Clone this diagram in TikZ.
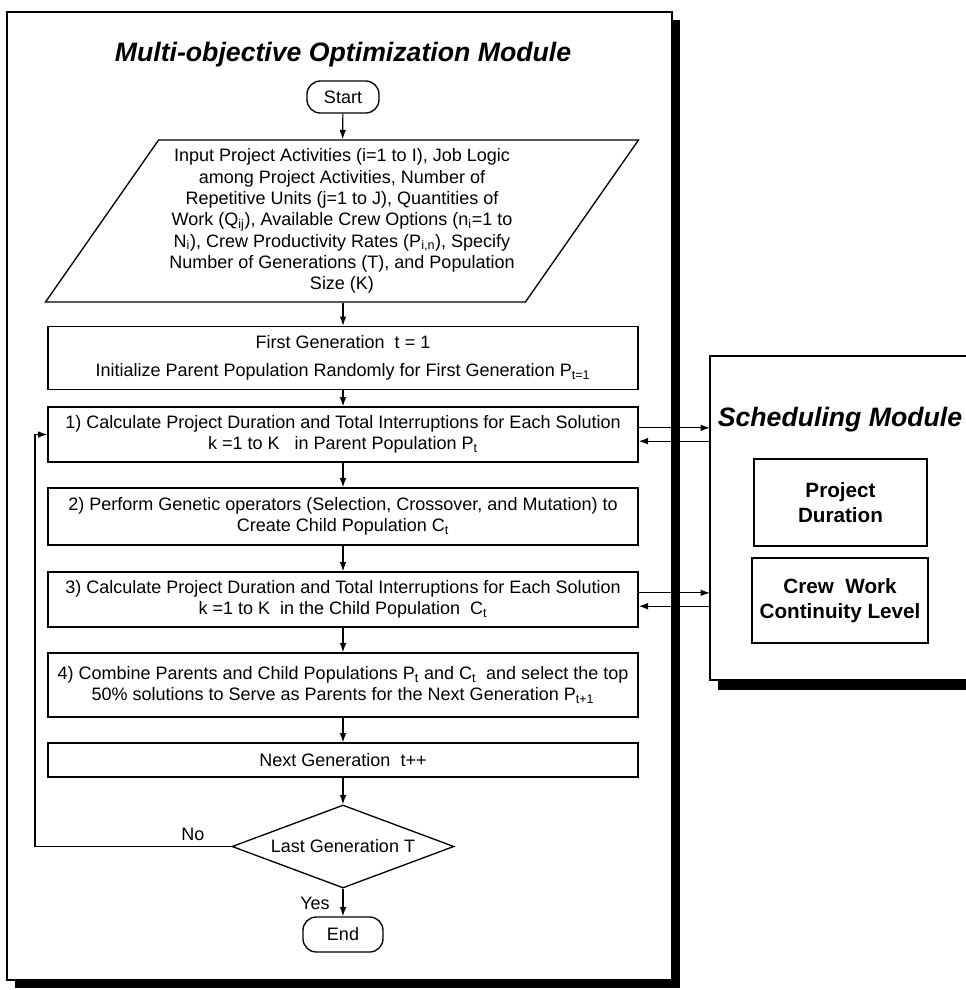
\documentclass[tikz,border=0pt]{standalone}
\usepackage{fontspec}
\setmainfont{Liberation Sans}
\usetikzlibrary{shapes.geometric,arrows.meta}

\tikzset{
  stepbox/.style={draw, line width=1pt, minimum width=442.5pt, align=center, inner sep=2pt},
  endbox/.style={draw, line width=1pt, rounded corners=10pt, inner sep=0pt},
  arr/.style={-{Latex[length=7pt,width=5pt]}, line width=0.9pt},
  modtitle/.style={font=\fontsize{20}{24}\selectfont\bfseries\itshape},
  outbox/.style={draw, line width=0.9pt, align=center, font=\fontsize{15.5}{19}\selectfont\bfseries},
}

\begin{document}
\begin{tikzpicture}[x=0.75pt, y=-0.75pt, font=\fontsize{13.5}{16}\selectfont]
    \useasboundingbox (0,0) rectangle (966,990);

    % Optimization module frame
    \fill (672,20) rectangle (680,988);
    \fill (15,980) rectangle (680,988);
    \draw[line width=1.1pt] (7,12) rectangle (672,980);
    \node[modtitle] (optTitle) at (343,55) {Multi-objective Optimization Module};

    % Scheduling module frame
    \fill (718,680) rectangle (966,690);
    \draw[line width=1.1pt] (966,356) -- (710,356) -- (710,680) -- (966,680);
    \coordinate (schL) at (710,0);
    \node[modtitle] (schTitle) at (840,420) {Scheduling Module};
    \node[outbox, minimum width=129.75pt, minimum height=65.25pt] (dur) at (840.5,502.5) {Project\\Duration};
    \node[outbox, minimum width=132pt, minimum height=63.75pt] (crew) at (840,600.5) {Crew~~Work\\Continuity Level};

    % Flowchart
    \node[endbox, minimum width=54pt, minimum height=24pt] (start) at (343,97) {Start};
    \node[draw, line width=1pt, trapezium, trapezium left angle=52, trapezium right angle=128,
          trapezium stretches body, minimum width=444.75pt, minimum height=121.5pt,
          align=center, inner sep=0pt] (input) at (342,221)
        {Input Project Activities (i=1 to I), Job Logic\\
         among Project Activities, Number of\\
         Repetitive Units (j=1 to J), Quantities of\\
         Work (Q\textsubscript{ij}), Available Crew Options (n\textsubscript{i}=1 to\\
         N\textsubscript{i}), Crew Productivity Rates (P\textsubscript{i,n}), Specify\\
         Number of Generations (T), and Population\\
         Size (K)};
    \node[stepbox, minimum height=47.25pt] (gen1) at (343,358)
        {First Generation~~t = 1\\[5pt]
         Initialize Parent Population Randomly for First Generation P\textsubscript{t=1}};
    \node[stepbox, minimum height=41.25pt] (calcP) at (343,434.5)
        {1) Calculate Project Duration and Total Interruptions for Each Solution\\
         k =1 to K~~~in Parent Population P\textsubscript{t}};
    \node[stepbox, minimum height=42.75pt] (genop) at (343,516.5)
        {2) Perform Genetic operators (Selection, Crossover, and Mutation) to\\
         Create Child Population C\textsubscript{t}};
    \node[stepbox, minimum height=41.25pt] (calcC) at (343,599.5)
        {3) Calculate Project Duration and Total Interruptions for Each Solution\\
         k =1 to K~~in the Child Population~~C\textsubscript{t}};
    \node[stepbox, minimum height=48pt] (combine) at (343,685)
        {4) Combine Parents and Child Populations P\textsubscript{t} and C\textsubscript{t}~ and select the top\\
         50\% solutions to Serve as Parents for the Next Generation P\textsubscript{t+1}};
    \node[stepbox, minimum height=25.5pt] (nextgen) at (343,760) {Next Generation~~t++};
    \node[draw, line width=1pt, diamond, aspect=2.67, minimum width=166.5pt, minimum height=62.25pt,
          inner sep=0pt] (last) at (343,846.5) {Last Generation T};
    \node[endbox, minimum width=60pt, minimum height=26.25pt] (end) at (343,934.5) {End};
    \node (no) at (193,834) {No};
    \node (yes) at (315,903) {Yes};
    \coordinate (loopx) at (35,0);

    % Connectors
    \draw[arr] (start) -- (input);
    \draw[arr] (input.south -| start) -- (gen1);
    \draw[arr] (gen1) -- (calcP);
    \draw[arr] (calcP) -- (genop);
    \draw[arr] (genop) -- (calcC);
    \draw[arr] (calcC) -- (combine);
    \draw[arr] (combine) -- (nextgen);
    \draw[arr] (nextgen) -- (last);
    \draw[arr] (last) -- (end);
    \draw[arr] (last.west) -- (last.west -| loopx) |- (calcP.west);

    % Links to scheduling module
    \draw[arr] ([yshift=5pt]calcP.east) -- ([yshift=5pt]calcP.east -| schL);
    \draw[arr] ([yshift=-5pt]calcP.east -| schL) -- ([yshift=-5pt]calcP.east);
    \draw[arr] ([yshift=5pt]calcC.east) -- ([yshift=5pt]calcC.east -| schL);
    \draw[arr] ([yshift=-5pt]calcC.east -| schL) -- ([yshift=-5pt]calcC.east);
\end{tikzpicture}
\end{document}
